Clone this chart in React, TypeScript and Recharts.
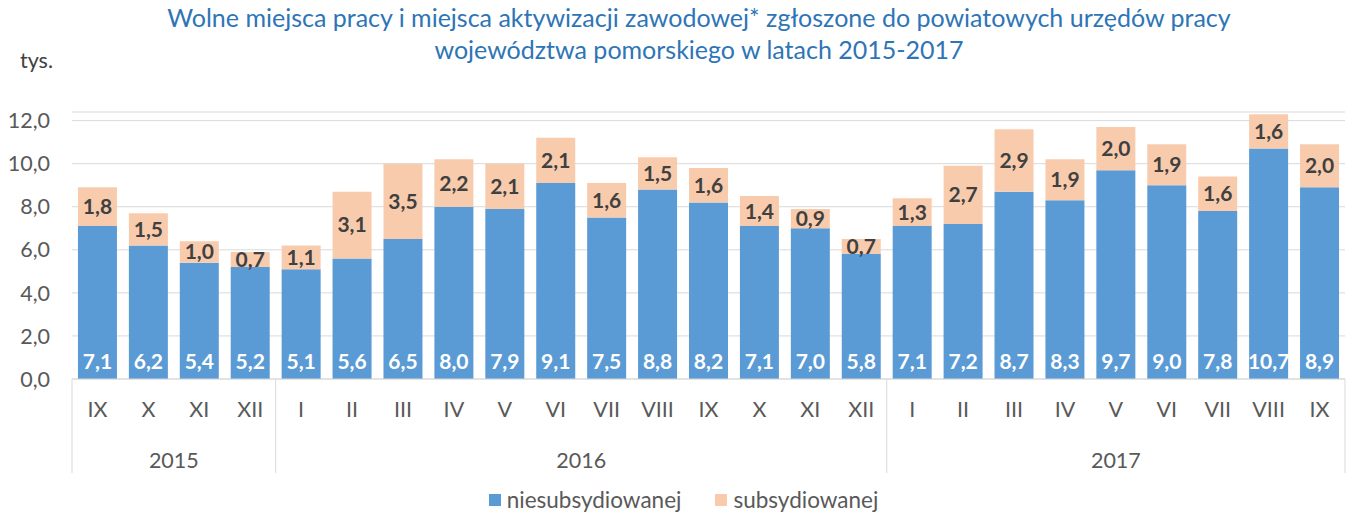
import { BarChart, Bar, XAxis, YAxis, CartesianGrid, Legend, LabelList } from "recharts";

// miesiące (IX 2015 - IX 2017)
const months = [
  "IX", "X", "XI", "XII",
  "I", "II", "III", "IV", "V", "VI", "VII", "VIII", "IX", "X", "XI", "XII",
  "I", "II", "III", "IV", "V", "VI", "VII", "VIII", "IX",
];
const years = ["2015", "2016", "2017"];
const yearCounts = [4, 12, 9];

// tys. miejsc
const niesubsydiowane = [
  7.1, 6.2, 5.4, 5.2,
  5.1, 5.6, 6.5, 8.0, 7.9, 9.1, 7.5, 8.8, 8.2, 7.1, 7.0, 5.8,
  7.1, 7.2, 8.7, 8.3, 9.7, 9.0, 7.8, 10.7, 8.9,
];
const subsydiowane = [
  1.8, 1.5, 1.0, 0.7,
  1.1, 3.1, 3.5, 2.2, 2.1, 2.1, 1.6, 1.5, 1.6, 1.4, 0.9, 0.7,
  1.3, 2.7, 2.9, 1.9, 2.0, 1.9, 1.6, 1.6, 2.0,
];
const yTicks = [0, 2, 4, 6, 8, 10, 12];

const data = months.map((m, i) => ({
  month: m,
  nies: niesubsydiowane[i],
  sub: subsydiowane[i],
}));

const W = 1348;
const H = 515;
const M = { top: 112, right: 3, bottom: 0, left: 0 };
const Y_AXIS_W = 72;
const MONTH_H = 45;
const YEAR_H = 50;
const LEGEND_H = 41;
const FONT = "Lato, 'Open Sans', sans-serif";
const BLUE = "#5B9BD5";
const PEACH = "#F8CBAD";
const GRID = "#D9D9D9";
const TXT = "#595959";
const AX_FS = 21.5;

const fmt = (v: number) => v.toFixed(1).replace(".", ",");

const bandW = (W - M.left - M.right - Y_AXIS_W) / months.length;

// where each year group starts
const groupStarts: number[] = [];
let acc = 0;
yearCounts.forEach((c) => {
  groupStarts.push(acc);
  acc += c;
});

const YearTick = (props: any) => {
  const { x, y, index } = props;
  const half = bandW / 2;
  const items: any[] = [];
  const top = y - MONTH_H;
  const bottom = y + YEAR_H - 1;
  if (groupStarts.includes(index)) {
    items.push(<line key="s" x1={x - half} x2={x - half} y1={top} y2={bottom} stroke={GRID} />);
  }
  if (index === months.length - 1) {
    items.push(<line key="e" x1={x + half} x2={x + half} y1={top} y2={bottom} stroke={GRID} />);
  }
  groupStarts.forEach((s, g) => {
    const mid = s + (yearCounts[g] - 1) / 2;
    if (index === Math.floor(mid)) {
      const cx = mid % 1 === 0 ? x : x + half;
      items.push(
        <text key="t" x={cx} y={y + 36} textAnchor="middle" dominantBaseline="central" fontSize={AX_FS} fill={TXT} fontFamily={FONT}>
          {years[g]}
        </text>
      );
    }
  });
  return <g>{items}</g>;
};

const LegendContent = () => (
  <div
    style={{
      height: LEGEND_H,
      boxSizing: "border-box",
      paddingTop: 10,
      paddingLeft: 22,
      display: "flex",
      justifyContent: "center",
      alignItems: "center",
      gap: 34,
      fontFamily: FONT,
      fontSize: 22.5,
      color: TXT,
    }}
  >
    {[
      { c: BLUE, t: "niesubsydiowanej" },
      { c: PEACH, t: "subsydiowanej" },
    ].map((it) => (
      <div key={it.t} style={{ display: "flex", alignItems: "center", gap: 6 }}>
        <span style={{ width: 12, height: 12, background: it.c, display: "inline-block" }} />
        <span>{it.t}</span>
      </div>
    ))}
  </div>
);

export default function App() {
  return (
    <div style={{ position: "absolute", left: 0, top: 0, width: W, height: H, background: "#fff", fontFamily: FONT }}>
      <div
        style={{
          position: "absolute",
          left: 25,
          top: 1,
          width: W,
          textAlign: "center",
          color: "#2E75B6",
          fontSize: 25,
          lineHeight: "32px",
        }}
      >
        Wolne miejsca pracy i miejsca aktywizacji zawodowej* zgłoszone do powiatowych urzędów pracy
        <br />
        województwa pomorskiego w latach 2015-2017
      </div>
      <div style={{ position: "absolute", left: 20, top: 47, fontSize: 21.5, color: "#404040" }}>tys.</div>
      <BarChart width={W} height={H} data={data} margin={M} barCategoryGap="11.7%">
        <CartesianGrid vertical={false} stroke={GRID} />
        <XAxis
          dataKey="month"
          height={MONTH_H}
          interval={0}
          tickLine={false}
          tickSize={0}
          tickMargin={23}
          axisLine={{ stroke: GRID }}
          tick={{ fontSize: AX_FS, fill: TXT, fontFamily: FONT }}
        />
        <XAxis
          xAxisId="year"
          dataKey="month"
          height={YEAR_H}
          interval={0}
          tickLine={false}
          tickSize={0}
          tickMargin={0}
          axisLine={false}
          tick={<YearTick />}
        />
        <YAxis
          width={Y_AXIS_W}
          domain={[0, 12.4]}
          ticks={yTicks}
          tickFormatter={fmt}
          axisLine={false}
          tickLine={false}
          tickSize={0}
          tickMargin={22}
          tick={{ fontSize: AX_FS, fill: TXT, fontFamily: FONT }}
        />
        <Legend verticalAlign="bottom" height={LEGEND_H} content={<LegendContent />} />
        <Bar dataKey="nies" stackId="a" fill={BLUE} isAnimationActive={false}>
          <LabelList
            dataKey="nies"
            position="insideBottom"
            offset={10}
            formatter={(v: any) => fmt(Number(v))}
            fill="#FFFFFF"
            fontSize={21}
            fontWeight="bold"
            fontFamily={FONT}
          />
        </Bar>
        <Bar dataKey="sub" stackId="a" fill={PEACH} isAnimationActive={false}>
          <LabelList
            dataKey="sub"
            position="center"
            formatter={(v: any) => fmt(Number(v))}
            fill="#404040"
            fontSize={21}
            fontWeight="bold"
            fontFamily={FONT}
          />
        </Bar>
      </BarChart>
    </div>
  );
}
